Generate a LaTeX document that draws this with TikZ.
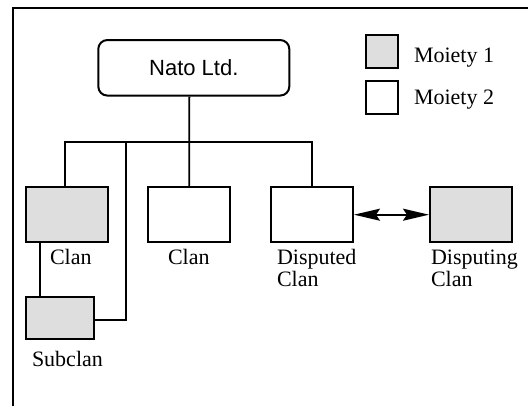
\documentclass[tikz,border=0pt]{standalone}
\usepackage{fontspec}
\setmainfont{Liberation Serif}
\setsansfont{Liberation Sans}
\usetikzlibrary{arrows.meta}
\tikzset{disputetip/.tip={Stealth[length=26pt,width=12pt,inset=4pt]}}
\colorlet{moietyshade}{black!13}
\begin{document}
\begin{tikzpicture}[x=1pt,y=-1pt,
  line width=2pt,
  moietyone/.style={draw, fill=moietyshade, minimum width=82pt, minimum height=55pt, inner sep=0pt},
  moietytwo/.style={draw, fill=white, minimum width=82pt, minimum height=55pt, inner sep=0pt},
  swatch/.style={draw, minimum width=32pt, minimum height=33pt, inner sep=0pt},
  lbl/.style={anchor=base west, inner sep=0pt, font=\fontsize{22}{24}\selectfont},
  link/.style={line width=1.9pt}]
\useasboundingbox (0,0) rectangle (528,406);
% outer frame (top and left edges)
\draw[line width=2.2pt] (12.7,406) -- (12.7,8.3) -- (528,8.3);

% company
\node[draw, rounded corners=9pt, minimum width=191pt, minimum height=55.5pt, inner sep=0pt,
      font=\sffamily\fontsize{22}{24}\selectfont] (nato) at (193.8,67.8) {Nato Ltd.};

% legend
\node[swatch, fill=moietyshade] (sw1) at (382.2,51.7) {};
\node[swatch, fill=white] (sw2) at (382.2,97.3) {};
\node[lbl] (m1) at (413,63) {Moiety 1};
\node[lbl] (m2) at (413,105) {Moiety 2};

% clans
\node[moietyone] (clanA) at (67,214.7) {};
\node[moietytwo] (clanB) at (189.2,214.7) {};
\node[moietytwo] (disputed) at (312,214.7) {};
\node[moietyone] (disputing) at (471,214.7) {};
\node[moietyone, minimum width=68.5pt, minimum height=41.7pt] (subclan) at (60.2,318.2) {};

% labels
\node[lbl] (tA) at (49,265) {Clan};
\node[lbl] (tB) at (167,265) {Clan};
\node[lbl] (tD1) at (276,265) {Disputed};
\node[lbl] (tD2) at (276,286.7) {Clan};
\node[lbl] (tG1) at (430,265) {Disputing};
\node[lbl] (tG2) at (430,286.7) {Clan};
\node[lbl] (tS) at (31,366.7) {Subclan};

% hierarchy connectors
\coordinate (bus) at (189.3,141.7);
\coordinate (busL) at (65,141.7);
\coordinate (busR) at (312,141.7);
\coordinate (drop) at (125.7,141.7);
\draw[link] (nato.south -| bus) -- (clanB.north);
\draw[link] (clanA.north -| busL) -- (busL) -- (busR) -- (disputed.north);
\draw[link] (drop) -- (drop |- 320,320) -- (subclan.east |- 320,320);
\draw[link] (clanA.south -| 40,0) -- (subclan.north -| 40,0);

% dispute
\draw[link, disputetip-disputetip] (disputed.east) -- (disputing.west);
\end{tikzpicture}
\end{document}
